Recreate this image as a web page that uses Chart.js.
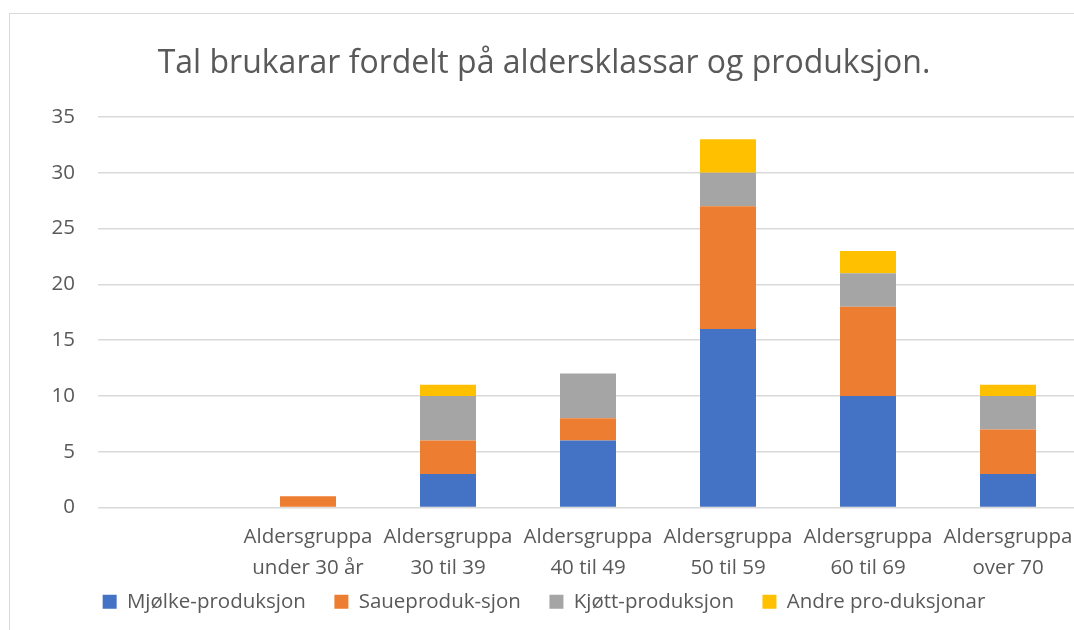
<!DOCTYPE html>
<html>
<head>
<meta charset="utf-8">
<script src="https://cdn.jsdelivr.net/npm/chart.js@4/dist/chart.umd.min.js"></script>
<style>
  html, body { margin: 0; padding: 0; background: #fff; overflow: hidden; }
  body { width: 1074px; height: 630px; position: relative; }
  #frame {
    position: absolute; left: 9px; top: 13px;
    width: 1100px; height: 700px;
    border-left: 1px solid #D9D9D9; border-top: 1px solid #D9D9D9;
  }
  #wrap { position: absolute; left: 0; top: 0; width: 1070px; height: 608px; }
</style>
</head>
<body>
<div id="frame"><div id="wrap"><canvas id="chart"></canvas></div></div>
<script>
// Data
const CATEGORIES = [
  '',
  ['Aldersgruppa', 'under 30 år'],
  ['Aldersgruppa', '30 til 39'],
  ['Aldersgruppa', '40 til 49'],
  ['Aldersgruppa', '50 til 59'],
  ['Aldersgruppa', '60 til 69'],
  ['Aldersgruppa', 'over 70'],
];
const MJOLK  = [null, 0, 3, 6, 16, 10, 3];
const SAUE   = [null, 1, 3, 2, 11, 8, 4];
const KJOTT  = [null, 0, 4, 4, 3, 3, 3];
const ANDRE  = [null, 0, 1, 0, 3, 2, 1];
const SERIES_NAMES = ['Mjølke-produksjon', 'Saueproduk-sjon', 'Kjøtt-produksjon', 'Andre pro-duksjonar'];
const Y_TICKS = [0, 5, 10, 15, 20, 25, 30, 35];

const TEXT = '#595959';
const GRID = '#D9D9D9';
const FONT = "'Open Sans', 'Noto Sans', sans-serif";
const SIZE = 20.5;

const COLORS = ['#4472C4', '#ED7D31', '#A5A5A5', '#FFC000'];

const datasets = [MJOLK, SAUE, KJOTT, ANDRE].map((data, i) => ({
  label: SERIES_NAMES[i],
  data,
  backgroundColor: COLORS[i],
  borderWidth: 0,
  categoryPercentage: 1,
  barPercentage: 0.4,
}));

// legend padding is shared by both directions, so widen the gaps between items a bit
const legendLabels = chart => Chart.defaults.plugins.legend.labels.generateLabels(chart)
  .map((item, i, all) => ({ ...item, text: i < all.length - 1 ? item.text + '\u2003' : item.text }));

new Chart(document.getElementById('chart'), {
  type: 'bar',
  data: { labels: CATEGORIES, datasets },
  options: {
    responsive: true,
    maintainAspectRatio: false,
    animation: false,
    layout: { padding: { left: 0, right: 2, top: 0, bottom: 0 } },
    plugins: {
      title: {
        display: true,
        text: 'Tal brukarar fordelt på aldersklassar og produksjon.',
        color: TEXT,
        font: { family: FONT, size: 32, weight: 'normal', lineHeight: 1.2 },
        padding: { top: 31, bottom: 33.6 },
      },
      legend: {
        position: 'bottom',
        labels: {
          color: TEXT,
          font: { family: FONT, size: SIZE },
          boxWidth: 14,
          boxHeight: 14,
          padding: 8,
          generateLabels: legendLabels,
        },
      },
      tooltip: { enabled: false },
    },
    scales: {
      x: {
        stacked: true,
        grid: { display: false, drawTicks: false },
        border: { display: false },
        ticks: {
          color: TEXT,
          font: { family: FONT, size: SIZE, lineHeight: 31 / SIZE },
          padding: 14,
          maxRotation: 0,
          autoSkip: false,
        },
        // padding is counted twice by default; keep only the top gap.
        // the last label may run past the plot edge, as in the original
        afterFit: scale => {
          scale.height = 76;
          scale.paddingLeft = 0;
          scale.paddingRight = 0;
        },
      },
      y: {
        stacked: true,
        min: 0,
        max: 35,
        afterBuildTicks: scale => { scale.ticks = Y_TICKS.map(v => ({ value: v })); },
        grid: { color: GRID, lineWidth: 1.5, drawTicks: false },
        border: { display: false },
        ticks: {
          color: TEXT,
          font: { family: FONT, size: SIZE },
          padding: 23,
        },
        afterFit: scale => { scale.width = 88; },
      },
    },
  },
});
</script>
</body>
</html>
